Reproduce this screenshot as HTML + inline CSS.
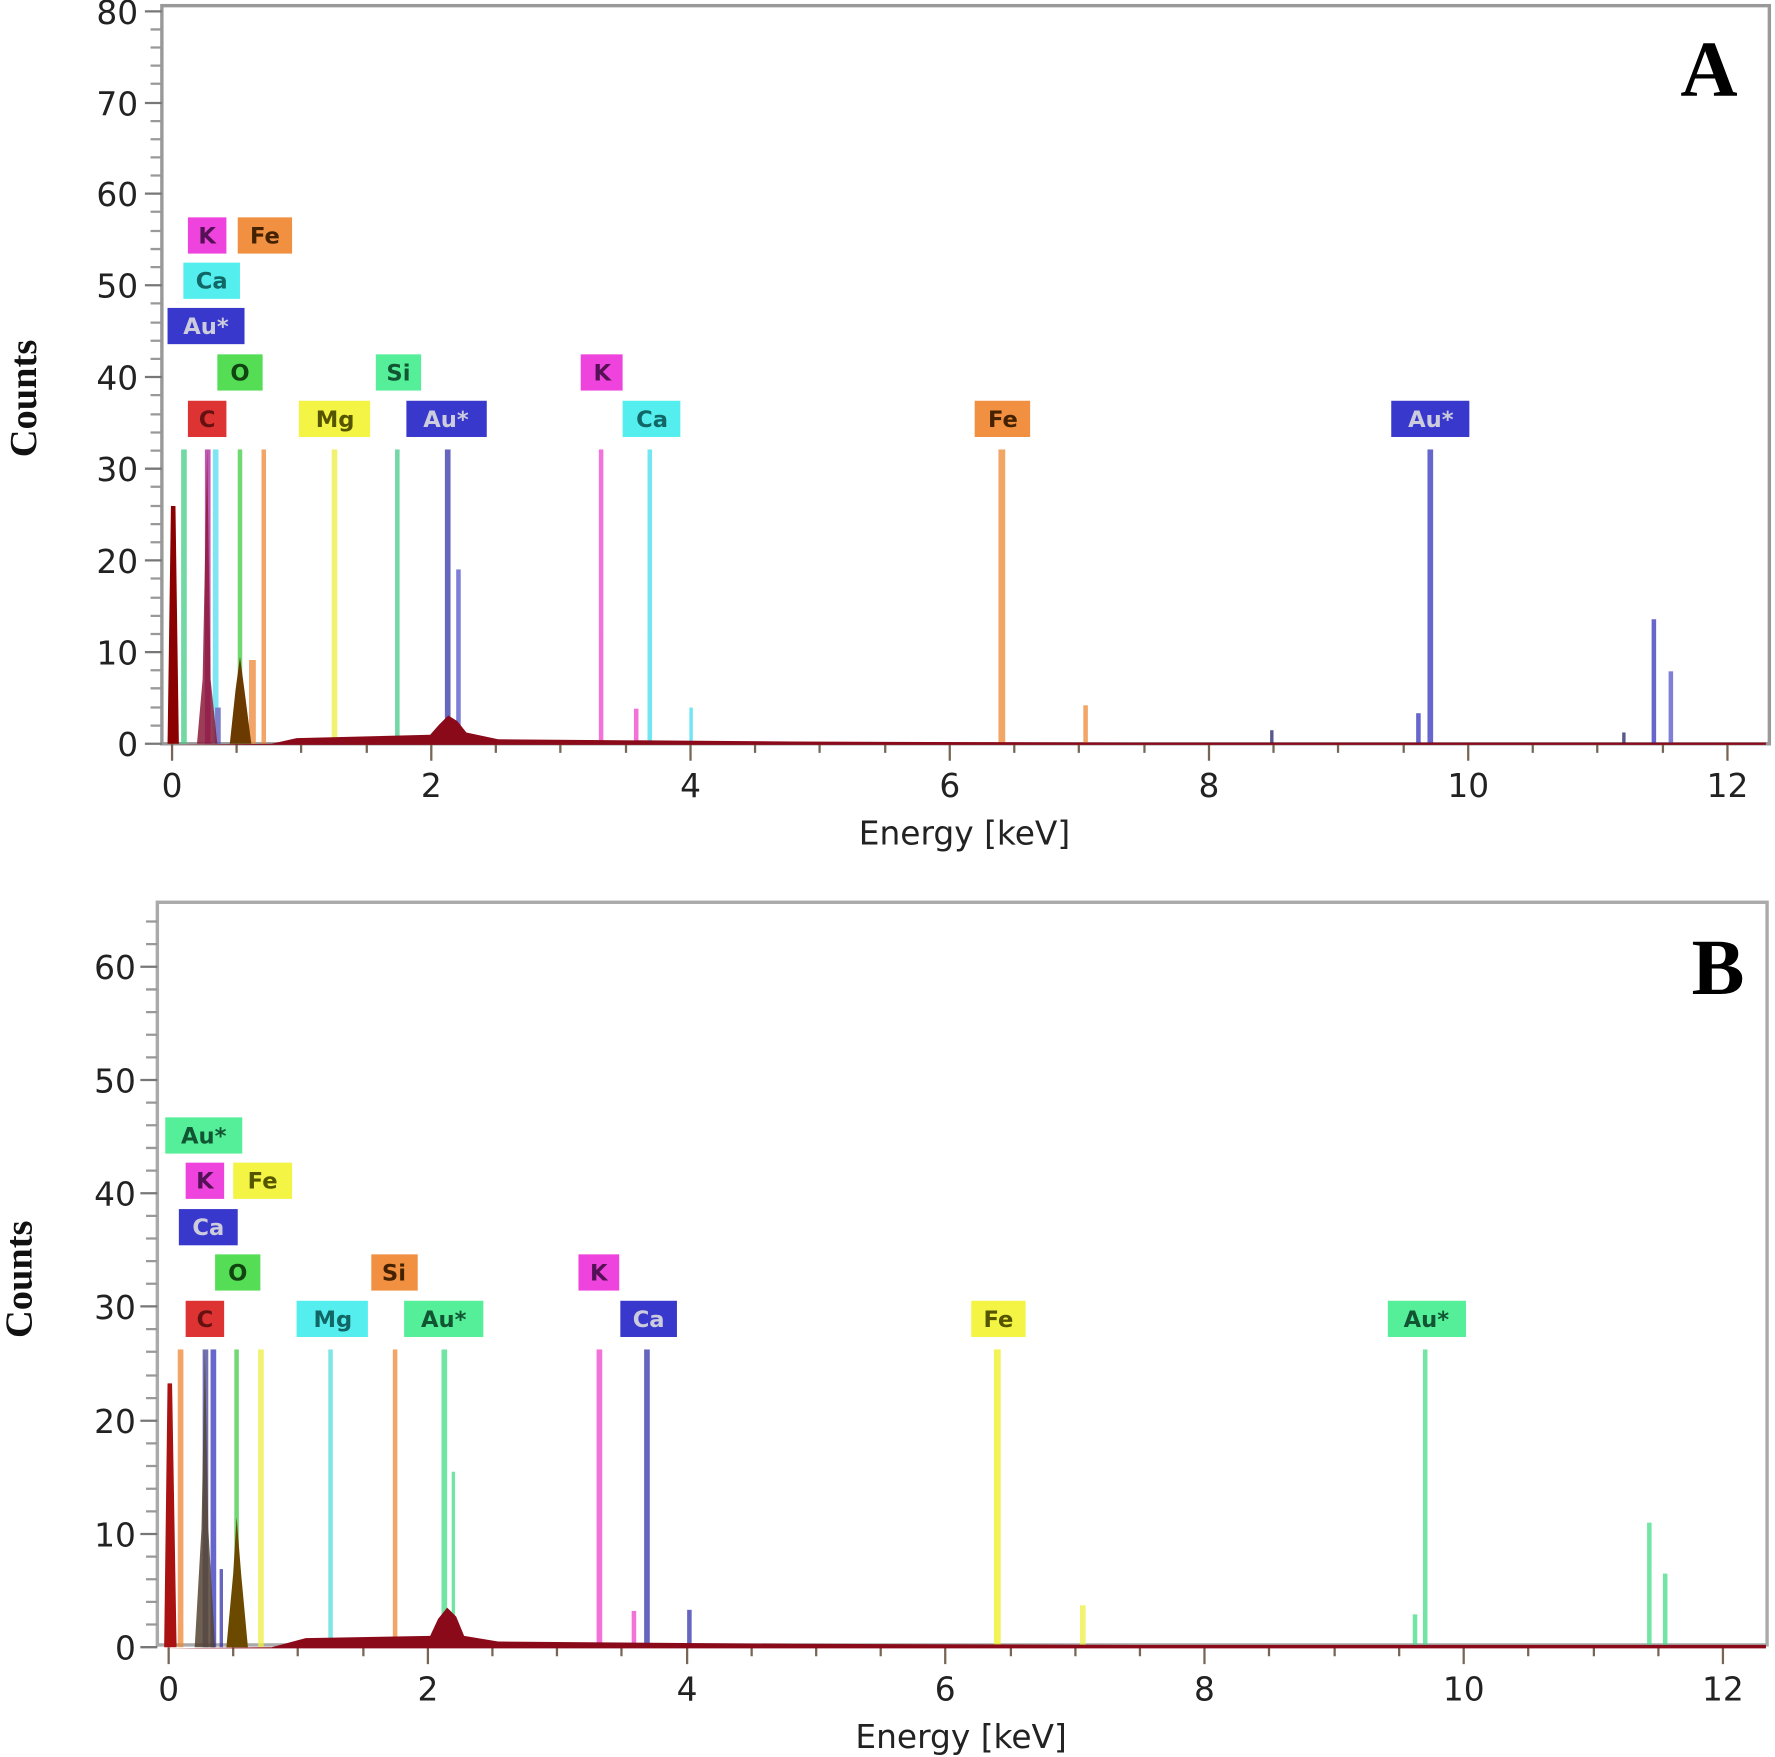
<!DOCTYPE html>
<html><head><style>
html,body{margin:0;padding:0;background:#fff}
svg{display:block}
text{font-family:"DejaVu Sans","Liberation Sans",sans-serif}
.t{font-size:29px;fill:#222;text-anchor:end}
.xt{font-size:29px;fill:#222;text-anchor:middle}
.lb{font-size:20px;text-anchor:middle;font-weight:bold}
</style></head><body>
<svg width="1775" height="1757" viewBox="0 0 1568 1552" preserveAspectRatio="none" xmlns="http://www.w3.org/2000/svg">
<!-- ===== Panel A ===== -->
<rect x="143" y="5" width="1420" height="652" fill="#fff" stroke="#999" stroke-width="3"/>
<g stroke="#777" stroke-width="2">
<line x1="128" y1="657" x2="143" y2="657"/><line x1="128" y1="576" x2="143" y2="576"/><line x1="128" y1="495" x2="143" y2="495"/><line x1="128" y1="414" x2="143" y2="414"/><line x1="128" y1="333" x2="143" y2="333"/><line x1="128" y1="252" x2="143" y2="252"/><line x1="128" y1="171" x2="143" y2="171"/><line x1="128" y1="91" x2="143" y2="91"/><line x1="128" y1="10" x2="143" y2="10"/>
</g>
<path d="M133 641H143M133 625H143M133 608H143M133 592H143M133 560H143M133 544H143M133 528H143M133 511H143M133 479H143M133 463H143M133 447H143M133 430H143M133 398H143M133 382H143M133 366H143M133 349H143M133 317H143M133 301H143M133 285H143M133 268H143M133 236H143M133 220H143M133 204H143M133 187H143M133 155H143M133 139H143M133 123H143M133 107H143M133 74H143M133 58H143M133 42H143M133 26H143" stroke="#999" stroke-width="2"/>
<g class="t"><text x="122" y="668">0</text><text x="122" y="587">10</text><text x="122" y="506">20</text><text x="122" y="425">30</text><text x="122" y="344">40</text><text x="122" y="263">50</text><text x="122" y="182">60</text><text x="122" y="102">70</text><text x="122" y="21">80</text></g>
<path d="M152 657v15M381 657v15M610 657v15M839 657v15M1068 657v15M1297 657v15M1526 657v15M209 657v8M266 657v8M324 657v8M438 657v8M495 657v8M553 657v8M667 657v8M724 657v8M782 657v8M896 657v8M953 657v8M1011 657v8M1125 657v8M1182 657v8M1240 657v8M1354 657v8M1411 657v8M1469 657v8" stroke="#765" stroke-width="2"/>
<g class="xt"><text x="152" y="704">0</text><text x="381" y="704">2</text><text x="610" y="704">4</text><text x="839" y="704">6</text><text x="1068" y="704">8</text><text x="1297" y="704">10</text><text x="1526" y="704">12</text></g>
<text x="852" y="746" class="xt">Energy [keV]</text>
<text transform="translate(32,352) rotate(-90)" style="font-family:'Liberation Serif',serif;font-weight:bold;font-size:34px;text-anchor:middle" fill="#111">Counts</text>
<text x="1535" y="85" style="font-family:'Liberation Serif',serif;font-weight:bold;font-size:70px;text-anchor:end" fill="#000">A</text>
<g opacity="0.75">
<rect x="160" y="397" width="5" height="260" fill="#44cc88"/>
<rect x="181" y="397" width="5" height="260" fill="#aa2299"/>
<rect x="188" y="397" width="5" height="260" fill="#55ddee"/>
<rect x="210" y="397" width="4" height="260" fill="#44cc44"/>
<rect x="231" y="397" width="4" height="260" fill="#ee8833"/>
<rect x="293" y="397" width="5" height="260" fill="#eeee44"/>
<rect x="349" y="397" width="4" height="260" fill="#44cc88"/>
<rect x="393" y="397" width="5" height="260" fill="#3333aa"/>
<rect x="403" y="503" width="4" height="154" fill="#5555cc"/>
<rect x="529" y="397" width="4" height="260" fill="#ee44cc"/>
<rect x="572" y="397" width="4" height="260" fill="#44ddee"/>
<rect x="882" y="397" width="6" height="260" fill="#ee8833"/>
<rect x="1261" y="397" width="5" height="260" fill="#3333bb"/>
<rect x="560" y="626" width="4" height="31" fill="#ee44cc"/>
<rect x="609" y="625" width="3" height="32" fill="#44ddee"/>
<rect x="957" y="623" width="4" height="34" fill="#ee8833"/>
<rect x="1251" y="630" width="4" height="27" fill="#3333bb"/>
<rect x="1459" y="547" width="4" height="110" fill="#3333bb"/>
<rect x="1474" y="593" width="4" height="64" fill="#5555cc"/>
<rect x="1122" y="645" width="3" height="12" fill="#222266"/>
<rect x="1433" y="647" width="3" height="10" fill="#222266"/>
<rect x="188" y="590" width="4" height="67" fill="#55ddee"/>
<rect x="190" y="625" width="5" height="32" fill="#5555bb"/>
<rect x="220" y="583" width="6" height="74" fill="#ee8833"/>
</g>
<path d="M148 657L151 447L155 447L158 657Z" fill="#8b0000"/>
<path d="M174 657L179 600L183 397L186 600L192 657Z" fill="#8b1a3a" opacity="0.85"/>
<path d="M203 657L208 610L212 580L216 610L222 657Z" fill="#6b3a00"/>
<path d="M240 657L262 652L380 649L388 640L396 632L404 637L412 647L440 653L700 655L1000 656L1560 656L1560 658L148 658Z" fill="#8b0a1a"/>
<g class="lb">
<rect x="166" y="192" width="34" height="32" fill="#ee44dd"/><text x="183" y="215" fill="#551155">K</text>
<rect x="210" y="192" width="48" height="32" fill="#f09040"/><text x="234" y="215" fill="#442200">Fe</text>
<rect x="162" y="232" width="50" height="32" fill="#55eeee"/><text x="187" y="255" fill="#116666">Ca</text>
<rect x="148" y="272" width="68" height="32" fill="#3838cc"/><text x="182" y="295" fill="#ccd">Au*</text>
<rect x="192" y="313" width="40" height="32" fill="#55dd55"/><text x="212" y="336" fill="#114411">O</text>
<rect x="166" y="354" width="34" height="32" fill="#dd3333"/><text x="183" y="377" fill="#661111">C</text>
<rect x="264" y="354" width="63" height="32" fill="#f4f444"/><text x="296" y="377" fill="#555500">Mg</text>
<rect x="332" y="313" width="40" height="32" fill="#55ee99"/><text x="352" y="336" fill="#115533">Si</text>
<rect x="359" y="354" width="71" height="32" fill="#3838cc"/><text x="394" y="377" fill="#ccd">Au*</text>
<rect x="513" y="313" width="37" height="32" fill="#ee44dd"/><text x="532" y="336" fill="#551155">K</text>
<rect x="550" y="354" width="51" height="32" fill="#55eeee"/><text x="576" y="377" fill="#116666">Ca</text>
<rect x="861" y="354" width="49" height="32" fill="#f09040"/><text x="886" y="377" fill="#442200">Fe</text>
<rect x="1229" y="354" width="69" height="32" fill="#3838cc"/><text x="1264" y="377" fill="#ccd">Au*</text>
</g>

<!-- ===== Panel B ===== -->
<rect x="139" y="797" width="1422" height="656" fill="#fff" stroke="#aaa" stroke-width="3"/>
<g stroke="#777" stroke-width="2">
<line x1="124" y1="1455" x2="139" y2="1455"/><line x1="124" y1="1355" x2="139" y2="1355"/><line x1="124" y1="1255" x2="139" y2="1255"/><line x1="124" y1="1154" x2="139" y2="1154"/><line x1="124" y1="1054" x2="139" y2="1054"/><line x1="124" y1="954" x2="139" y2="954"/><line x1="124" y1="854" x2="139" y2="854"/>
</g>
<path d="M129 1435H139M129 1415H139M129 1395H139M129 1375H139M129 1335H139M129 1315H139M129 1295H139M129 1275H139M129 1235H139M129 1215H139M129 1194H139M129 1174H139M129 1134H139M129 1114H139M129 1094H139M129 1074H139M129 1034H139M129 1014H139M129 994H139M129 974H139M129 934H139M129 914H139M129 894H139M129 874H139M129 834H139M129 814H139" stroke="#999" stroke-width="2"/>
<g class="t"><text x="120" y="1466">0</text><text x="120" y="1366">10</text><text x="120" y="1266">20</text><text x="120" y="1165">30</text><text x="120" y="1065">40</text><text x="120" y="965">50</text><text x="120" y="865">60</text></g>
<path d="M149 1455v15M378 1455v15M607 1455v15M835 1455v15M1064 1455v15M1293 1455v15M1522 1455v15M206 1455v8M263 1455v8M321 1455v8M435 1455v8M492 1455v8M549 1455v8M664 1455v8M721 1455v8M778 1455v8M893 1455v8M950 1455v8M1007 1455v8M1121 1455v8M1179 1455v8M1236 1455v8M1350 1455v8M1408 1455v8M1465 1455v8" stroke="#765" stroke-width="2"/>
<g class="xt"><text x="149" y="1502">0</text><text x="378" y="1502">2</text><text x="607" y="1502">4</text><text x="835" y="1502">6</text><text x="1064" y="1502">8</text><text x="1293" y="1502">10</text><text x="1522" y="1502">12</text></g>
<text x="849" y="1544" class="xt">Energy [keV]</text>
<text transform="translate(28,1130) rotate(-90)" style="font-family:'Liberation Serif',serif;font-weight:bold;font-size:34px;text-anchor:middle" fill="#111">Counts</text>
<text x="1541" y="878" style="font-family:'Liberation Serif',serif;font-weight:bold;font-size:70px;text-anchor:end" fill="#000">B</text>
<g opacity="0.75">
<rect x="157" y="1192" width="5" height="263" fill="#ee8833"/>
<rect x="179" y="1192" width="5" height="263" fill="#444499"/>
<rect x="186" y="1192" width="5" height="263" fill="#3333bb"/>
<rect x="207" y="1192" width="4" height="263" fill="#44cc44"/>
<rect x="228" y="1192" width="5" height="263" fill="#eeee44"/>
<rect x="290" y="1192" width="4" height="263" fill="#55dddd"/>
<rect x="347" y="1192" width="4" height="263" fill="#ee8833"/>
<rect x="390" y="1192" width="5" height="263" fill="#44dd88"/>
<rect x="399" y="1300" width="3" height="155" fill="#44dd88"/>
<rect x="527" y="1192" width="5" height="263" fill="#ee44cc"/>
<rect x="569" y="1192" width="5" height="263" fill="#3333aa"/>
<rect x="878" y="1192" width="6" height="263" fill="#eeee22"/>
<rect x="1257" y="1192" width="4" height="263" fill="#44dd88"/>
<rect x="558" y="1423" width="4" height="32" fill="#ee44cc"/>
<rect x="607" y="1422" width="4" height="33" fill="#3333aa"/>
<rect x="954" y="1418" width="5" height="37" fill="#eeee44"/>
<rect x="1248" y="1426" width="4" height="29" fill="#44dd88"/>
<rect x="1455" y="1345" width="4" height="110" fill="#44dd88"/>
<rect x="1469" y="1390" width="4" height="65" fill="#44dd88"/>
<rect x="194" y="1386" width="3" height="69" fill="#3333aa"/>
</g>
<path d="M145 1455L148 1222L152 1222L156 1455Z" fill="#aa1111"/>
<path d="M172 1455L178 1350L181 1192L184 1350L190 1455Z" fill="#554433" opacity="0.85"/>
<path d="M200 1455L206 1390L209 1340L213 1390L219 1455Z" fill="#6b4a00"/>
<path d="M240 1455L270 1447L380 1445L387 1430L395 1420L403 1428L410 1445L440 1450L700 1452L1000 1453L1560 1453L1560 1456L145 1456Z" fill="#8b0a1a"/>
<g class="lb">
<rect x="146" y="987" width="68" height="32" fill="#55ee99"/><text x="180" y="1010" fill="#115533">Au*</text>
<rect x="164" y="1027" width="34" height="32" fill="#ee44dd"/><text x="181" y="1050" fill="#551155">K</text>
<rect x="206" y="1027" width="52" height="32" fill="#f4f444"/><text x="232" y="1050" fill="#555500">Fe</text>
<rect x="158" y="1068" width="52" height="32" fill="#3838cc"/><text x="184" y="1091" fill="#ccd">Ca</text>
<rect x="190" y="1108" width="40" height="32" fill="#55dd55"/><text x="210" y="1131" fill="#114411">O</text>
<rect x="328" y="1108" width="41" height="32" fill="#f09040"/><text x="348" y="1131" fill="#442200">Si</text>
<rect x="164" y="1149" width="34" height="32" fill="#dd3333"/><text x="181" y="1172" fill="#661111">C</text>
<rect x="262" y="1149" width="63" height="32" fill="#55eeee"/><text x="294" y="1172" fill="#116666">Mg</text>
<rect x="357" y="1149" width="70" height="32" fill="#55ee99"/><text x="392" y="1172" fill="#115533">Au*</text>
<rect x="511" y="1108" width="36" height="32" fill="#ee44dd"/><text x="529" y="1131" fill="#551155">K</text>
<rect x="548" y="1149" width="50" height="32" fill="#3838cc"/><text x="573" y="1172" fill="#ccd">Ca</text>
<rect x="858" y="1149" width="48" height="32" fill="#f4f444"/><text x="882" y="1172" fill="#555500">Fe</text>
<rect x="1226" y="1149" width="69" height="32" fill="#55ee99"/><text x="1260" y="1172" fill="#115533">Au*</text>
</g>
</svg>
</body></html>
